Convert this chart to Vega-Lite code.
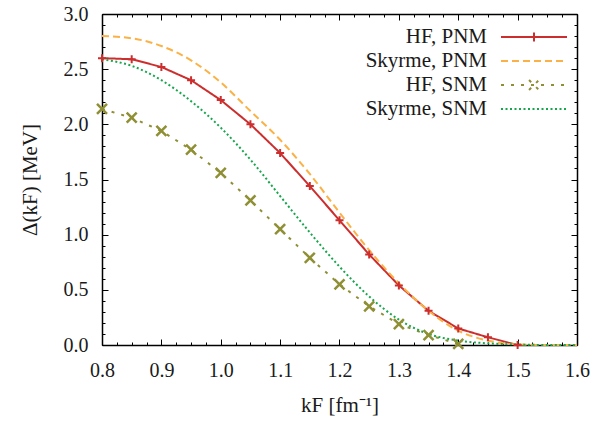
{
  "$schema": "https://vega.github.io/schema/vega-lite/v6.json",
  "width": 475,
  "height": 331,
  "autosize": {"type": "none"},
  "padding": {"left": 102, "top": 14, "right": 39, "bottom": 82},
  "background": "white",
  "config": {
    "view": {"stroke": null},
    "font": "Liberation Serif",
    "axis": {
      "grid": false,
      "labelFlush": false,
      "domainColor": "#000000",
      "domainWidth": 1.5,
      "tickColor": "#000000",
      "tickWidth": 1,
      "labelFont": "Liberation Serif",
      "labelFontSize": 20,
      "labelColor": "#1a1a1a",
      "titleFont": "Liberation Serif",
      "titleFontSize": 21,
      "titleFontWeight": "normal",
      "titleColor": "#1a1a1a"
    }
  },
  "datasets": {
    "curves": [
      {"series": "HF, PNM", "k": 0.80, "delta": 2.60},
      {"series": "HF, PNM", "k": 0.85, "delta": 2.59},
      {"series": "HF, PNM", "k": 0.90, "delta": 2.52},
      {"series": "HF, PNM", "k": 0.95, "delta": 2.40},
      {"series": "HF, PNM", "k": 1.00, "delta": 2.22},
      {"series": "HF, PNM", "k": 1.05, "delta": 2.00},
      {"series": "HF, PNM", "k": 1.10, "delta": 1.74},
      {"series": "HF, PNM", "k": 1.15, "delta": 1.44},
      {"series": "HF, PNM", "k": 1.20, "delta": 1.13},
      {"series": "HF, PNM", "k": 1.25, "delta": 0.82},
      {"series": "HF, PNM", "k": 1.30, "delta": 0.54},
      {"series": "HF, PNM", "k": 1.35, "delta": 0.31},
      {"series": "HF, PNM", "k": 1.40, "delta": 0.15},
      {"series": "HF, PNM", "k": 1.45, "delta": 0.07},
      {"series": "HF, PNM", "k": 1.50, "delta": 0.00},
      {"series": "Skyrme, PNM", "k": 0.80, "delta": 2.80},
      {"series": "Skyrme, PNM", "k": 0.85, "delta": 2.78},
      {"series": "Skyrme, PNM", "k": 0.90, "delta": 2.71},
      {"series": "Skyrme, PNM", "k": 0.95, "delta": 2.58},
      {"series": "Skyrme, PNM", "k": 1.00, "delta": 2.38},
      {"series": "Skyrme, PNM", "k": 1.05, "delta": 2.12},
      {"series": "Skyrme, PNM", "k": 1.10, "delta": 1.86},
      {"series": "Skyrme, PNM", "k": 1.15, "delta": 1.55},
      {"series": "Skyrme, PNM", "k": 1.20, "delta": 1.20},
      {"series": "Skyrme, PNM", "k": 1.25, "delta": 0.86},
      {"series": "Skyrme, PNM", "k": 1.30, "delta": 0.56},
      {"series": "Skyrme, PNM", "k": 1.35, "delta": 0.31},
      {"series": "Skyrme, PNM", "k": 1.40, "delta": 0.13},
      {"series": "Skyrme, PNM", "k": 1.45, "delta": 0.04},
      {"series": "Skyrme, PNM", "k": 1.50, "delta": 0.005},
      {"series": "Skyrme, PNM", "k": 1.55, "delta": 0.0},
      {"series": "Skyrme, PNM", "k": 1.60, "delta": 0.0},
      {"series": "HF, SNM", "k": 0.80, "delta": 2.14},
      {"series": "HF, SNM", "k": 0.85, "delta": 2.06},
      {"series": "HF, SNM", "k": 0.90, "delta": 1.94},
      {"series": "HF, SNM", "k": 0.95, "delta": 1.77},
      {"series": "HF, SNM", "k": 1.00, "delta": 1.56},
      {"series": "HF, SNM", "k": 1.05, "delta": 1.31},
      {"series": "HF, SNM", "k": 1.10, "delta": 1.05},
      {"series": "HF, SNM", "k": 1.15, "delta": 0.79},
      {"series": "HF, SNM", "k": 1.20, "delta": 0.55},
      {"series": "HF, SNM", "k": 1.25, "delta": 0.35},
      {"series": "HF, SNM", "k": 1.30, "delta": 0.19},
      {"series": "HF, SNM", "k": 1.35, "delta": 0.09},
      {"series": "HF, SNM", "k": 1.40, "delta": 0.01},
      {"series": "Skyrme, SNM", "k": 0.80, "delta": 2.59},
      {"series": "Skyrme, SNM", "k": 0.85, "delta": 2.53},
      {"series": "Skyrme, SNM", "k": 0.90, "delta": 2.40},
      {"series": "Skyrme, SNM", "k": 0.95, "delta": 2.21},
      {"series": "Skyrme, SNM", "k": 1.00, "delta": 1.97},
      {"series": "Skyrme, SNM", "k": 1.05, "delta": 1.68},
      {"series": "Skyrme, SNM", "k": 1.10, "delta": 1.35},
      {"series": "Skyrme, SNM", "k": 1.15, "delta": 1.02},
      {"series": "Skyrme, SNM", "k": 1.20, "delta": 0.71},
      {"series": "Skyrme, SNM", "k": 1.25, "delta": 0.44},
      {"series": "Skyrme, SNM", "k": 1.30, "delta": 0.23},
      {"series": "Skyrme, SNM", "k": 1.35, "delta": 0.10},
      {"series": "Skyrme, SNM", "k": 1.40, "delta": 0.04},
      {"series": "Skyrme, SNM", "k": 1.45, "delta": 0.015},
      {"series": "Skyrme, SNM", "k": 1.50, "delta": 0.005},
      {"series": "Skyrme, SNM", "k": 1.55, "delta": 0.0},
      {"series": "Skyrme, SNM", "k": 1.60, "delta": 0.0}
    ]
  },
  "data": {"name": "curves"},
  "layer": [
    {
      "transform": [{"filter": "datum.series === 'HF, PNM' || datum.series === 'HF, SNM'"}],
      "mark": {"type": "line", "strokeWidth": 2},
      "encoding": {
        "x": {"field": "k", "type": "quantitative",
          "scale": {"domain": [0.8, 1.6], "nice": false, "zero": false},
          "axis": {"orient": "bottom", "values": [0.8, 0.9, 1.0, 1.1, 1.2, 1.3, 1.4, 1.5, 1.6], "format": ".1f", "tickSize": -6, "labelPadding": 21, "title": "kF [fm⁻¹]", "titlePadding": 14}},
        "y": {"field": "delta", "type": "quantitative",
          "scale": {"domain": [0, 3], "nice": false, "zero": false},
          "axis": {"orient": "left", "values": [0, 0.5, 1.0, 1.5, 2.0, 2.5, 3.0], "format": ".1f", "tickSize": -6, "labelPadding": 20, "title": "Δ(kF) [MeV]", "titleX": -62}},
        "color": {"field": "series", "type": "nominal",
          "scale": {"domain": ["HF, PNM", "Skyrme, PNM", "HF, SNM", "Skyrme, SNM"], "range": ["#cc2e2e", "#fbb145", "#8f8f34", "#16a64c"]},
          "legend": {"title": " ", "titleFontSize": 5, "titlePadding": 0, "orient": "top-right", "offset": 6, "padding": 0, "symbolSize": 484, "symbolStrokeWidth": 2, "labelAlign": "right", "labelOffset": -59, "labelFont": "Liberation Serif", "labelFontSize": 21, "labelColor": "#1a1a1a", "labelLimit": 300, "rowPadding": 2,
            "encode": {"symbols": {"update": {"shape": {"signal": "datum.value === 'HF, PNM' ? 'M-3,0L3,0M0,-0.4L0,0.4' : datum.value === 'HF, SNM' ? 'M-3,0L3,0M-0.45,-0.45L0.45,0.45M-0.45,0.45L0.45,-0.45' : 'M-3,0L3,0'"}, "fill": {"value": "transparent"}}}}}},
        "strokeDash": {"field": "series", "type": "nominal",
          "scale": {"domain": ["HF, PNM", "Skyrme, PNM", "HF, SNM", "Skyrme, SNM"], "range": [[1, 0], [7, 4], [3, 7], [2, 2.5]]},
          "legend": {"title": " ", "titleFontSize": 5, "titlePadding": 0, "orient": "top-right", "offset": 6, "padding": 0, "symbolSize": 484, "symbolStrokeWidth": 2, "labelAlign": "right", "labelOffset": -59, "labelFont": "Liberation Serif", "labelFontSize": 21, "labelColor": "#1a1a1a", "labelLimit": 300, "rowPadding": 2}}
      }
    },
    {
      "transform": [{"filter": "datum.series === 'Skyrme, PNM' || datum.series === 'Skyrme, SNM'"}],
      "mark": {"type": "line", "strokeWidth": 2, "interpolate": "monotone"},
      "encoding": {
        "x": {"field": "k", "type": "quantitative", "axis": null},
        "y": {"field": "delta", "type": "quantitative", "axis": null},
        "color": {"field": "series", "type": "nominal"},
        "strokeDash": {"field": "series", "type": "nominal"}
      }
    },
    {
      "transform": [{"filter": "datum.series === 'HF, PNM'"}],
      "mark": {"type": "point", "shape": "M-1,0L1,0M0,-1L0,1", "filled": false, "size": 64, "strokeWidth": 2, "color": "#cc2e2e", "opacity": 1},
      "encoding": {
        "x": {"field": "k", "type": "quantitative", "axis": null},
        "y": {"field": "delta", "type": "quantitative", "axis": null}
      }
    },
    {
      "transform": [{"filter": "datum.series === 'HF, SNM'"}],
      "mark": {"type": "point", "shape": "M-1,-1L1,1M-1,1L1,-1", "filled": false, "size": 100, "strokeWidth": 2.5, "color": "#8f8f34", "opacity": 1},
      "encoding": {
        "x": {"field": "k", "type": "quantitative", "axis": null},
        "y": {"field": "delta", "type": "quantitative", "axis": null}
      }
    },
    {
      "mark": {"type": "point", "opacity": 0},
      "encoding": {
        "x": {"field": "k", "type": "quantitative",
          "axis": {"orient": "bottom", "values": [0.8, 0.825, 0.85, 0.875, 0.9, 0.925, 0.95, 0.975, 1.0, 1.025, 1.05, 1.075, 1.1, 1.125, 1.15, 1.175, 1.2, 1.225, 1.25, 1.275, 1.3, 1.325, 1.35, 1.375, 1.4, 1.425, 1.45, 1.475, 1.5, 1.525, 1.55, 1.575, 1.6], "labels": false, "tickSize": -3, "domain": false, "title": null}},
        "y": {"field": "delta", "type": "quantitative",
          "axis": {"orient": "left", "values": [0, 0.1, 0.2, 0.3, 0.4, 0.5, 0.6, 0.7, 0.8, 0.9, 1.0, 1.1, 1.2, 1.3, 1.4, 1.5, 1.6, 1.7, 1.8, 1.9, 2.0, 2.1, 2.2, 2.3, 2.4, 2.5, 2.6, 2.7, 2.8, 2.9, 3.0], "labels": false, "tickSize": -3, "domain": false, "title": null}}
      }
    },
    {
      "mark": {"type": "point", "opacity": 0},
      "encoding": {
        "x": {"field": "k", "type": "quantitative",
          "axis": {"orient": "top", "values": [0.8, 0.9, 1.0, 1.1, 1.2, 1.3, 1.4, 1.5, 1.6], "labels": false, "tickSize": -6, "domain": true, "title": null}},
        "y": {"field": "delta", "type": "quantitative",
          "axis": {"orient": "right", "values": [0, 0.5, 1.0, 1.5, 2.0, 2.5, 3.0], "labels": false, "tickSize": -6, "domain": true, "title": null}}
      }
    },
    {
      "mark": {"type": "point", "opacity": 0},
      "encoding": {
        "x": {"field": "k", "type": "quantitative",
          "axis": {"orient": "top", "values": [0.8, 0.825, 0.85, 0.875, 0.9, 0.925, 0.95, 0.975, 1.0, 1.025, 1.05, 1.075, 1.1, 1.125, 1.15, 1.175, 1.2, 1.225, 1.25, 1.275, 1.3, 1.325, 1.35, 1.375, 1.4, 1.425, 1.45, 1.475, 1.5, 1.525, 1.55, 1.575, 1.6], "labels": false, "tickSize": -3, "domain": false, "title": null}},
        "y": {"field": "delta", "type": "quantitative",
          "axis": {"orient": "right", "values": [0, 0.1, 0.2, 0.3, 0.4, 0.5, 0.6, 0.7, 0.8, 0.9, 1.0, 1.1, 1.2, 1.3, 1.4, 1.5, 1.6, 1.7, 1.8, 1.9, 2.0, 2.1, 2.2, 2.3, 2.4, 2.5, 2.6, 2.7, 2.8, 2.9, 3.0], "labels": false, "tickSize": -3, "domain": false, "title": null}}
      }
    }
  ],
  "resolve": {"axis": {"x": "independent", "y": "independent"}}
}
